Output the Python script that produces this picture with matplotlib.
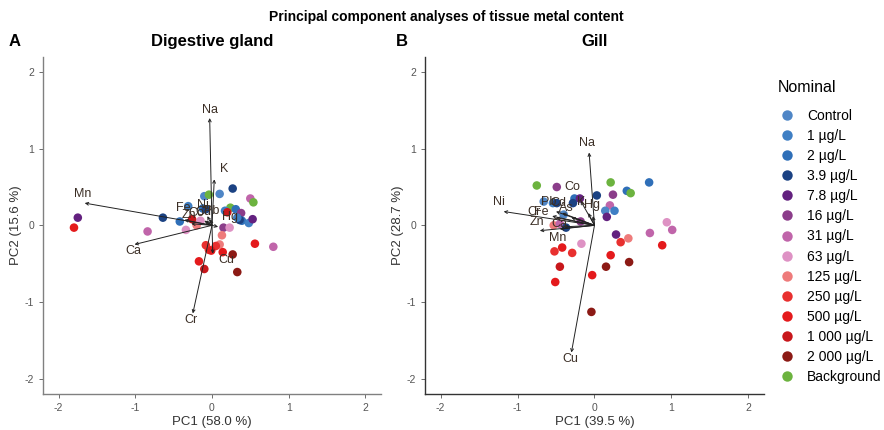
import matplotlib
matplotlib.use("Agg")
import matplotlib.pyplot as plt
from matplotlib.lines import Line2D

plt.rcParams['font.family'] = ['Liberation Sans', 'DejaVu Sans']
plt.rcParams['axes.unicode_minus'] = False

# concentration groups and their colours
groups = ["Control", "1 \u00b5g/L", "2 \u00b5g/L", "3.9 \u00b5g/L", "7.8 \u00b5g/L",
          "16 \u00b5g/L", "31 \u00b5g/L", "63 \u00b5g/L", "125 \u00b5g/L", "250 \u00b5g/L",
          "500 \u00b5g/L", "1 000 \u00b5g/L", "2 000 \u00b5g/L", "Background"]
colors = ["#4f86c6", "#3f7fc4", "#2f6fb8", "#1b4283", "#63217f", "#8b3d8a", "#c065aa",
          "#de92c4", "#ee7b7b", "#e8302f", "#e41a1c", "#c8171b", "#8c1a15", "#6cb33f"]

# digestive gland scores (PC1, PC2, group index)
dg_pc1 = [-1.75, -1.80, -0.64, -0.42, -0.84, -0.34, -0.31, -0.20, -0.15, -0.26,
          -0.10, -0.04, 0.10, 0.27, -0.12, -0.08, 0.24, 0.17, 0.31, 0.20,
          0.38, 0.39, 0.48, 0.53, 0.50, 0.54, 0.15, 0.23, 0.13, 0.10,
          -0.08, -0.04, 0.05, 0.14, 0.27, 0.56, 0.80, -0.17, -0.10, 0.33,
          0.36, -0.01, 0.33]
dg_pc2 = [0.10, -0.03, 0.10, 0.05, -0.08, -0.06, 0.25, 0.00, 0.06, 0.08,
          0.38, 0.40, 0.41, 0.48, 0.22, 0.21, 0.23, 0.19, 0.21, 0.17,
          0.16, 0.06, 0.03, 0.08, 0.35, 0.30, -0.03, -0.03, -0.13, -0.25,
          -0.26, -0.32, -0.27, -0.35, -0.38, -0.24, -0.28, -0.47, -0.57, -0.61,
          0.07, -0.33, 0.10]
dg_grp = [4, 10, 3, 2, 6, 7, 1, 8, 7, 11,
          0, 13, 0, 3, 2, 3, 13, 1, 2, 11,
          5, 2, 1, 4, 6, 13, 5, 7, 8, 8,
          9, 9, 9, 10, 12, 10, 6, 10, 11, 12,
          3, 10, 1]

# digestive gland loadings
dg_vars = ["Na", "K", "Mn", "Ca", "Cr", "Cu", "Hg", "Fe", "Zn", "Ni", "Co", "Cd", "Pb"]
dg_load1 = [-0.03, 0.03, -1.66, -1.01, -0.25, 0.01, 0.08, -0.36, -0.27, -0.06, -0.08, -0.10, -0.02]
dg_load2 = [1.40, 0.60, 0.29, -0.25, -1.15, -0.37, -0.02, 0.07, 0.02, 0.12, 0.05, 0.06, 0.08]
dg_lab1 = [-0.03, 0.16, -1.68, -1.02, -0.28, 0.19, 0.24, -0.37, -0.30, -0.12, -0.20, -0.11, -0.01]
dg_lab2 = [1.51, 0.74, 0.41, -0.34, -1.23, -0.45, 0.11, 0.23, 0.14, 0.27, 0.16, 0.17, 0.19]

# gill scores
gi_pc1 = [-0.75, -0.49, -0.66, -0.54, -0.49, -0.26, -0.19, -0.28, 0.03, 0.21,
          0.24, 0.42, 0.47, 0.71, 0.20, 0.14, 0.26, 0.16, -0.18, -0.40,
          -0.53, -0.45, -0.37, 0.28, 0.44, 0.34, -0.17, 0.94, 1.01, 0.72,
          0.88, -0.52, -0.42, -0.29, 0.21, 0.15, 0.45, -0.45, -0.03, -0.51,
          -0.04]
gi_pc2 = [0.52, 0.50, 0.31, 0.29, 0.29, 0.35, 0.35, 0.29, 0.39, 0.56,
          0.40, 0.45, 0.42, 0.56, 0.26, 0.19, 0.19, 0.11, 0.05, 0.14,
          0.00, 0.02, -0.03, -0.12, -0.17, -0.22, -0.24, 0.04, -0.06, -0.10,
          -0.26, -0.34, -0.29, -0.36, -0.39, -0.54, -0.48, -0.54, -0.65, -0.74,
          -1.13]
gi_grp = [13, 5, 0, 1, 3, 2, 4, 3, 3, 13,
          5, 2, 13, 2, 6, 0, 1, 4, 5, 0,
          8, 6, 3, 4, 8, 9, 7, 7, 6, 6,
          10, 9, 10, 9, 10, 12, 12, 11, 10, 10,
          12]

# gill loadings
gi_vars = ["Na", "Cu", "Ni", "Co", "Pb", "Cd", "As", "K", "Hg", "Cr", "Fe", "Zn", "Ca", "Mn"]
gi_load1 = [-0.07, -0.30, -1.18, -0.18, -0.50, -0.42, -0.30, -0.08, -0.02, -0.55, -0.50, -0.71, -0.40, -0.45]
gi_load2 = [0.95, -1.66, 0.18, 0.32, 0.18, 0.16, 0.10, 0.16, 0.12, 0.12, 0.10, -0.07, -0.02, -0.05]
gi_lab1 = [-0.10, -0.32, -1.24, -0.29, -0.59, -0.47, -0.36, -0.17, -0.03, -0.78, -0.69, -0.75, -0.46, -0.48]
gi_lab2 = [1.08, -1.74, 0.30, 0.50, 0.30, 0.29, 0.22, 0.30, 0.27, 0.18, 0.17, 0.04, 0.02, -0.17]


def biplot(ax, pc1, pc2, grp, names, l1, l2, t1, t2, spine_col):
    ax.scatter(pc1, pc2, c=[colors[g] for g in grp], s=38, linewidths=0, zorder=2)
    for i in range(len(names)):
        ax.annotate("", xy=(l1[i], l2[i]), xytext=(0, 0),
                    arrowprops=dict(arrowstyle="->", lw=0.7, color="#222222",
                                    shrinkA=0, shrinkB=0, mutation_scale=5),
                    zorder=3)
        ax.text(t1[i], t2[i], names[i], ha="center", va="center", fontsize=9,
                color="#3b2e25", zorder=4)
    ax.set_xlim(-2.2, 2.2)
    ax.set_ylim(-2.2, 2.2)
    ax.set_xticks([-2, -1, 0, 1, 2])
    ax.set_yticks([-2, -1, 0, 1, 2])
    ax.tick_params(labelsize=7.5, colors="#555555", length=3, width=0.6)
    for side in ["top", "right"]:
        ax.spines[side].set_visible(False)
    for side in ["left", "bottom"]:
        ax.spines[side].set_color(spine_col)
        ax.spines[side].set_linewidth(1.0)


fig = plt.figure(figsize=(8.84, 4.30), dpi=100)
ax1 = fig.add_axes([0.049, 0.084, 0.3816, 0.784])
ax2 = fig.add_axes([0.481, 0.084, 0.383, 0.784])

biplot(ax1, dg_pc1, dg_pc2, dg_grp, dg_vars, dg_load1, dg_load2, dg_lab1, dg_lab2, "#808080")
biplot(ax2, gi_pc1, gi_pc2, gi_grp, gi_vars, gi_load1, gi_load2, gi_lab1, gi_lab2, "#333333")

ax1.set_xlabel("PC1 (58.0 %)", fontsize=9.5, color="#333333", labelpad=2)
ax1.set_ylabel("PC2 (15.6 %)", fontsize=9.5, color="#333333", labelpad=2)
ax2.set_xlabel("PC1 (39.5 %)", fontsize=9.5, color="#333333", labelpad=2)
ax2.set_ylabel("PC2 (28.7 %)", fontsize=9.5, color="#333333", labelpad=2)

ax1.set_title("Digestive gland", fontsize=12, fontweight="bold", pad=8)
ax2.set_title("Gill", fontsize=12, fontweight="bold", pad=8)

fig.text(446 / 884, 1 - 17 / 430, "Principal component analyses of tissue metal content",
         ha="center", va="center", fontsize=10, fontweight="bold")
fig.text(15 / 884, 1 - 42 / 430, "A", ha="center", va="center", fontsize=12, fontweight="bold")
fig.text(402 / 884, 1 - 42 / 430, "B", ha="center", va="center", fontsize=12, fontweight="bold")

# legend: title drawn separately so the gap below it can be set
fig.text(778 / 884, 1 - 88 / 430, "Nominal", ha="left", va="center", fontsize=11.5)
handles = [Line2D([], [], marker="o", linestyle="", markersize=7.5, markerfacecolor=c,
                  markeredgewidth=0) for c in colors]
leg = fig.legend(handles, groups, loc="upper left", bbox_to_anchor=(769 / 884, 1 - 99 / 430),
                 frameon=False, fontsize=10, borderaxespad=0.3,
                 labelspacing=0.44, handletextpad=0.85, handlelength=1.2)

fig.savefig("out.png", dpi=100)
